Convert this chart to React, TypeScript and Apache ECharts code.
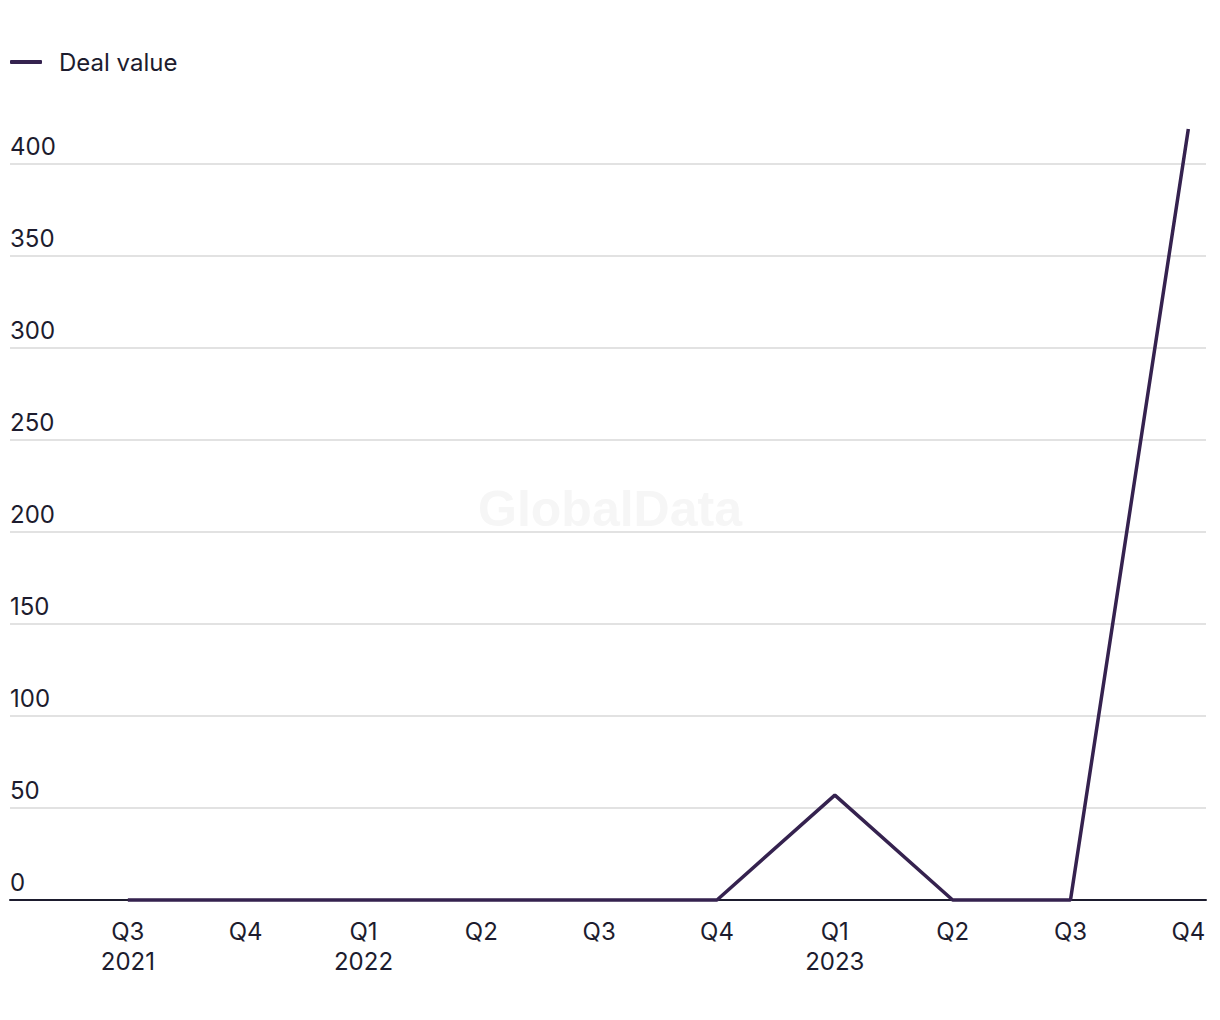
import React, { useEffect, useRef } from "react";
import * as echarts from "echarts";

const quarters = ["Q3", "Q4", "Q1", "Q2", "Q3", "Q4", "Q1", "Q2", "Q3", "Q4"];
const years = ["2021", "", "2022", "", "", "", "2023", "", "", ""];
const dealValue = [0, 0, 0, 0, 0, 0, 57, 0, 0, 419];
const seriesName = "Deal value";

const TEXT = "#1d1c2e";
const LINE = "#35224f";
const FONT = "Inter, 'Noto Sans', sans-serif";

export default function App() {
  const ref = useRef<HTMLDivElement>(null);
  useEffect(() => {
    if (!ref.current) return;
    const chart = echarts.init(ref.current, undefined, { renderer: "svg" });
    chart.setOption({
      animation: false,
      backgroundColor: "#ffffff",
      textStyle: { fontFamily: FONT },
      graphic: [
        {
          type: "text",
          left: "center",
          top: 484,
          z: 0,
          style: {
            text: "GlobalData",
            font: "bold 50px 'Liberation Sans', Arial, sans-serif",
            fill: "#f6f6f6",
          },
        },
      ],
      legend: {
        left: 10,
        top: 50,
        padding: 0,
        itemWidth: 32,
        itemHeight: 4,
        icon: "roundRect",
        data: [seriesName],
        textStyle: { fontSize: 24, color: TEXT, fontFamily: FONT, padding: [0, 0, 0, 12] },
      },
      grid: { left: 10, right: 14, top: 164, bottom: 120, containLabel: false },
      xAxis: {
        type: "value",
        min: -1,
        max: 9.15,
        interval: 1,
        splitLine: { show: false },
        axisTick: { show: false },
        axisLine: { show: true, onZero: false, lineStyle: { color: TEXT, width: 2 } },
        axisLabel: {
          showMinLabel: true,
          showMaxLabel: true,
          margin: 16,
          fontSize: 24,
          lineHeight: 30,
          color: TEXT,
          fontFamily: FONT,
          formatter: (v: number) => {
            const i = Math.round(v);
            if (Math.abs(v - i) > 1e-6 || i < 0 || i >= quarters.length) return "";
            return years[i] ? quarters[i] + "\n" + years[i] : quarters[i];
          },
        },
      },
      yAxis: {
        type: "value",
        min: 0,
        max: 400,
        interval: 50,
        axisLine: { show: false },
        axisTick: { show: false },
        splitLine: { show: true, lineStyle: { color: "#d9d9d9", width: 1.5 } },
        axisLabel: {
          inside: true,
          margin: 0,
          align: "left",
          verticalAlign: "bottom",
          padding: [0, 0, 6, 0],
          fontSize: 24,
          color: TEXT,
          fontFamily: FONT,
        },
      },
      series: [
        {
          name: seriesName,
          type: "line",
          data: dealValue.map((v, i) => [i, v]),
          clip: false,
          symbol: "none",
          color: LINE,
          lineStyle: { color: LINE, width: 3.5 },
          z: 3,
        },
      ],
    });
    return () => chart.dispose();
  }, []);
  return <div ref={ref} style={{ width: 1220, height: 1020, margin: -8 }} />;
}
